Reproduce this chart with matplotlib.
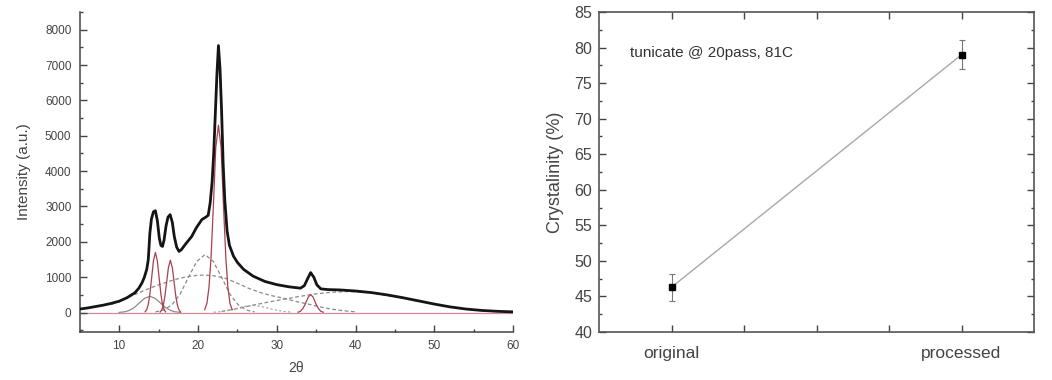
import numpy as np
import matplotlib
matplotlib.use("Agg")
import matplotlib.pyplot as plt
from matplotlib.ticker import MultipleLocator

# ---- left panel: XRD pattern ----
main_x = [5, 6, 7, 8, 9, 10, 11, 12, 12.5, 12.9, 13.2, 13.5, 13.7, 13.9, 14.1, 14.35,
          14.6, 14.85, 15.1, 15.3, 15.5, 15.7, 15.95, 16.2, 16.47, 16.75, 17.0, 17.3,
          17.6, 17.9, 18.4, 19.2, 19.8, 20.5, 21.0, 21.3, 21.55, 21.8, 22.0, 22.2, 22.4,
          22.6, 22.8, 23.0, 23.2, 23.4, 23.7, 24.0, 24.5, 25.0, 25.8, 27.0, 28.5, 30.0,
          31.5, 33.0, 33.5, 33.9, 34.3, 34.7, 35.1, 35.6, 36.5, 38, 40, 42, 44, 46, 48,
          50, 52, 54, 56, 58, 60]
main_y = [100, 130, 170, 210, 260, 320, 420, 560, 690, 840, 1000, 1220, 1500, 2250,
          2650, 2850, 2880, 2600, 2100, 1900, 1870, 2050, 2450, 2700, 2770, 2550, 2150,
          1850, 1730, 1780, 1930, 2150, 2400, 2630, 2700, 2750, 3100, 3700, 4500, 5600,
          6700, 7550, 6900, 5700, 4200, 3200, 2300, 1900, 1600, 1420, 1220, 1030, 880,
          790, 730, 690, 760, 950, 1130, 1000, 780, 670, 650, 640, 610, 565, 500, 420,
          330, 240, 160, 100, 60, 35, 20]

# crystalline peaks (red)
red1_x = [13.3, 13.5, 13.7, 13.9, 14.15, 14.35, 14.6, 14.85, 15.05, 15.3, 15.5, 15.7, 15.9]
red1_y = [20, 85, 230, 520, 1030, 1460, 1700, 1460, 1030, 520, 230, 85, 20]
red2_x = [15.2, 15.4, 15.6, 15.8, 16.05, 16.25, 16.5, 16.75, 16.95, 17.2, 17.4, 17.6, 17.8]
red2_y = [15, 75, 200, 450, 900, 1270, 1480, 1270, 900, 450, 200, 75, 15]
red3_x = [20.86, 21.14, 21.4, 21.66, 22.0, 22.26, 22.6, 22.94, 23.2, 23.54, 23.8, 24.06, 24.34]
red3_y = [80, 265, 715, 1540, 3230, 4660, 5300, 4660, 3230, 1540, 715, 265, 80]
red4_x = [32.7, 33.0, 33.3, 33.6, 33.75, 34.0, 34.3, 34.6, 34.85, 35.0, 35.3, 35.6, 35.9]
red4_y = [10, 35, 110, 230, 310, 440, 510, 440, 310, 230, 110, 35, 10]

# small grey solid component
grey_x = [10, 10.8, 11.3, 11.95, 12.6, 13.25, 13.9, 14.55, 15.2, 15.85, 16.5, 17.0, 17.8]
grey_y = [5, 25, 62, 147, 280, 405, 460, 405, 280, 147, 62, 25, 5]

# amorphous components (dashed)
narrow_x = [14.6, 15.65, 16.7, 17.75, 18.8, 19.85, 20.9, 21.95, 23.0, 24.05, 25.1, 26.15, 27.2]
narrow_y = [18, 72, 220, 525, 1000, 1445, 1640, 1445, 1000, 525, 220, 72, 18]
broad_x = [9, 10, 11, 12.5, 14, 15.5, 17, 18.5, 20, 20.9, 22, 23.5, 25, 26.5, 28, 29.5,
           31, 32.5, 34, 35.5, 37, 38.5, 40]
broad_y = [230, 310, 420, 560, 700, 820, 930, 1010, 1055, 1060, 1040, 970, 830, 680, 560,
           470, 400, 310, 240, 160, 95, 50, 20]
hump_x = [23, 25, 27, 29, 31, 33, 35, 37, 39, 41, 43, 45, 47, 49, 51, 53, 55, 57, 60]
hump_y = [30, 110, 210, 300, 380, 460, 530, 575, 595, 575, 520, 440, 360, 280, 200, 125,
          75, 40, 12]
small_x = [22, 23, 24, 25, 26, 27, 28, 29, 30, 31, 32]
small_y = [10, 27, 65, 120, 175, 200, 175, 120, 65, 27, 10]

# ---- right panel: crystallinity ----
samples = ["original", "processed"]
crystallinity = [46.3, 79.0]
cryst_err = [1.9, 2.0]

fig = plt.figure(figsize=(10.52, 3.8), dpi=100)
plt.rcParams['font.family'] = ['Liberation Sans', 'DejaVu Sans']

# ---------- left ----------
ax1 = fig.add_axes([0.0758, 0.1263, 0.412, 0.842])
ax1.axhline(0, color="#d48a9a", lw=0.9, zorder=1)
dash = dict(color="#8a8a8a", lw=0.9, ls=(0, (3, 2)), zorder=2)
ax1.plot(broad_x, broad_y, **dash)
ax1.plot(narrow_x, narrow_y, **dash)
ax1.plot(hump_x, hump_y, **dash)
ax1.plot(small_x, small_y, color="#a0a0a0", lw=0.8, ls=(0, (2, 2)), zorder=2)
ax1.plot(grey_x, grey_y, color="#8c8c8c", lw=0.9, zorder=2)
for rx, ry in [(red1_x, red1_y), (red2_x, red2_y), (red3_x, red3_y), (red4_x, red4_y)]:
    ax1.plot(rx, ry, color="#a8404f", lw=0.9, zorder=3)
ax1.plot(main_x, main_y, color="#151515", lw=2.0, zorder=4)

ax1.set_xlim(5, 60)
ax1.set_ylim(-550, 8500)
ax1.spines['top'].set_visible(False)
ax1.spines['right'].set_visible(False)
for s in ['left', 'bottom']:
    ax1.spines[s].set_color("#444444")
    ax1.spines[s].set_linewidth(1.1)
ax1.xaxis.set_major_locator(MultipleLocator(10))
ax1.xaxis.set_minor_locator(MultipleLocator(5))
ax1.yaxis.set_minor_locator(MultipleLocator(500))
ax1.set_yticks(range(0, 8001, 1000))
ax1.tick_params(which='major', direction='in', length=5, width=1, colors="#444444",
                labelsize=8.5, pad=6)
ax1.tick_params(which='minor', direction='in', length=2.5, width=1, colors="#444444")
ax1.set_xlabel("2θ", fontsize=10, color="#444444", labelpad=6)
ax1.set_ylabel("Intensity (a.u.)", fontsize=11, color="#444444", labelpad=10)

# ---------- right ----------
ax2 = fig.add_axes([0.5694, 0.1263, 0.4135, 0.842])
xpos = [1, 2]
ax2.plot(xpos, crystallinity, color="#a8a8a8", lw=1.0, zorder=2)
ax2.errorbar(xpos, crystallinity, yerr=cryst_err, fmt='none', ecolor="#777777",
             elinewidth=0.8, capsize=2.5, capthick=0.8, zorder=3)
ax2.plot(xpos, crystallinity, 's', color="black", ms=5, zorder=4)
ax2.text(0.857, 79.3, "tunicate @ 20pass, 81C", fontsize=11, color="#333333",
         va='center', ha='left')

ax2.set_xlim(0.75, 2.25)
ax2.set_ylim(40, 85)
ax2.set_xticks([1, 1.25, 1.5, 1.75, 2])
ax2.set_xticklabels([samples[0], "", "", "", samples[1]])
ax2.yaxis.set_major_locator(MultipleLocator(5))
ax2.yaxis.set_minor_locator(MultipleLocator(2.5))
for s in ax2.spines.values():
    s.set_color("#555555")
    s.set_linewidth(1.2)
ax2.tick_params(which='major', direction='in', length=5, width=1, colors="#444444",
                top=True, right=True, labelsize=11.5)
ax2.tick_params(which='minor', direction='in', length=2.5, width=1, colors="#444444",
                right=True)
ax2.tick_params(axis='x', pad=10, labelsize=12.5)
ax2.tick_params(axis='y', pad=5)
ax2.set_ylabel("Crystalinity (%)", fontsize=13, color="#444444", labelpad=7)

fig.savefig("out.png", dpi=100)
